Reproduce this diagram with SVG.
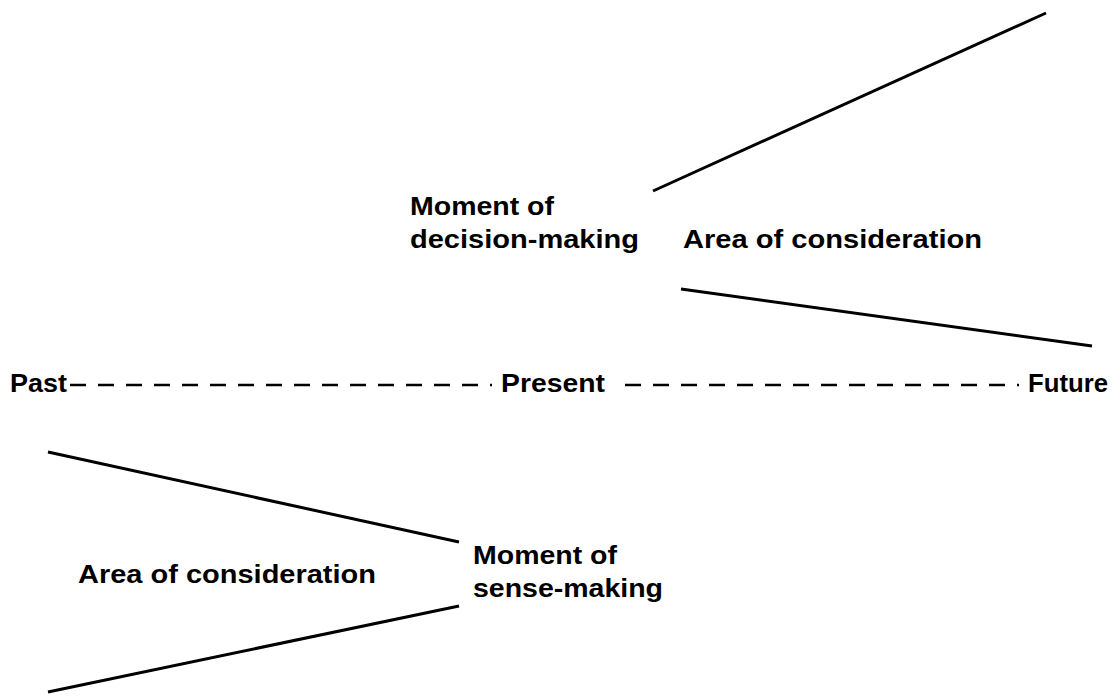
<svg xmlns="http://www.w3.org/2000/svg" width="1115" height="697" viewBox="0 0 1115 697">
<style>
.t{font-family:"Liberation Sans",Arial,sans-serif;font-weight:bold;font-size:25px;fill:#000}
.ln{stroke:#000;stroke-width:3;fill:none}
.dash{stroke:#000;stroke-width:2.5;stroke-dasharray:16 12;fill:none}
</style>
<rect width="1115" height="697" fill="#fff"/>
<g id="connectors">
<line class="ln" x1="653" y1="191" x2="1046" y2="13"/>
<line class="ln" x1="681" y1="289" x2="1092" y2="346"/>
<line class="ln" x1="48" y1="452" x2="459" y2="542"/>
<line class="ln" x1="48" y1="692" x2="459" y2="606"/>
<line class="dash" x1="70" y1="385" x2="492" y2="385"/>
<line class="dash" x1="625" y1="385" x2="1019" y2="385"/>
</g>
<g id="past"><text class="t" x="10" y="392" textLength="57" lengthAdjust="spacingAndGlyphs">Past</text></g>
<g id="present"><text class="t" x="501" y="392" textLength="104" lengthAdjust="spacingAndGlyphs">Present</text></g>
<g id="future"><text class="t" x="1028" y="392" textLength="80" lengthAdjust="spacingAndGlyphs">Future</text></g>
<g id="decision">
<text class="t" x="410" y="215" textLength="144" lengthAdjust="spacingAndGlyphs">Moment of</text>
<text class="t" x="410" y="248" textLength="229" lengthAdjust="spacingAndGlyphs">decision-making</text>
</g>
<g id="area-future"><text class="t" x="683" y="248" textLength="299" lengthAdjust="spacingAndGlyphs">Area of consideration</text></g>
<g id="area-past"><text class="t" x="78" y="583" textLength="298" lengthAdjust="spacingAndGlyphs">Area of consideration</text></g>
<g id="sense">
<text class="t" x="473" y="564" textLength="144" lengthAdjust="spacingAndGlyphs">Moment of</text>
<text class="t" x="473" y="597" textLength="190" lengthAdjust="spacingAndGlyphs">sense-making</text>
</g>
</svg>
